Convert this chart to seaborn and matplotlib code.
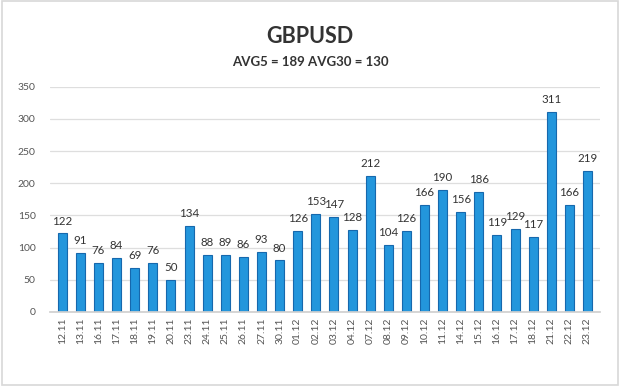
import matplotlib
matplotlib.use("Agg")
import matplotlib.pyplot as plt
import pandas as pd
import seaborn as sns

DATES = ["12.11", "13.11", "16.11", "17.11", "18.11", "19.11", "20.11",
         "23.11", "24.11", "25.11", "26.11", "27.11", "30.11", "01.12",
         "02.12", "03.12", "04.12", "07.12", "08.12", "09.12", "10.12",
         "11.12", "14.12", "15.12", "16.12", "17.12", "18.12", "21.12",
         "22.12", "23.12"]
VALUES = [122, 91, 76, 84, 69, 76, 50, 134, 88, 89, 86, 93, 80, 126,
          153, 147, 128, 212, 104, 126, 166, 190, 156, 186, 119, 129,
          117, 311, 166, 219]
Y_TICKS = [0, 50, 100, 150, 200, 250, 300, 350]
TITLE = "GBPUSD"
SUBTITLE = "AVG5 = 189 AVG30 = 130"

sns.set_theme(style="white")
plt.rcParams["font.family"] = ["Lato", "DejaVu Sans"]

df = pd.DataFrame({"date": DATES, "value": VALUES})

fig = plt.figure(figsize=(6.2, 3.86), dpi=100)
ax = fig.add_axes([0.08, 0.192, 0.888, 0.583])

sns.barplot(data=df, x="date", y="value", ax=ax, color="#2396dc",
            width=0.5, edgecolor="#1668ad", linewidth=0.8, saturation=1)

for i, v in enumerate(VALUES):
    ax.annotate(str(v), (i, v), xytext=(0, 5), textcoords="offset points",
                ha="center", va="bottom", fontsize=8.3, color="#333333")

ax.set_ylim(0, 350)
ax.set_yticks(Y_TICKS)
ax.set_xlim(-0.7, len(DATES) - 0.3)
ax.yaxis.grid(True, color="#dedede", lw=0.9)
ax.set_axisbelow(True)
for side in ("top", "right", "left"):
    ax.spines[side].set_visible(False)
ax.spines["bottom"].set_color("#d0d0d0")
ax.tick_params(axis="x", rotation=90, labelsize=7.5, colors="#555555", length=0, pad=4)
ax.tick_params(axis="y", labelsize=7.5, colors="#555555", length=0, pad=10)
ax.set_xlabel("")
ax.set_ylabel("")

fig.text(0.5, 0.905, TITLE, ha="center", va="center", fontsize=15.5,
         fontweight="bold", color="#333333")
fig.text(0.5, 0.84, SUBTITLE, ha="center", va="center", fontsize=9.5,
         fontweight="bold", color="#333333")

fig.patches.append(plt.Rectangle((0.003, 0.003), 0.994, 0.994,
                                 transform=fig.transFigure, fill=False,
                                 edgecolor="#d8d8d8", lw=1.2))

fig.savefig("out.png", dpi=100)
